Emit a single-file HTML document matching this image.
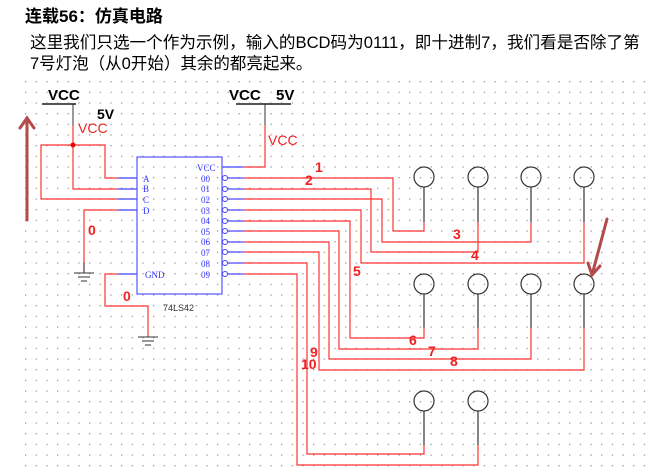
<!DOCTYPE html>
<html><head><meta charset="utf-8"><style>
body{margin:0;width:648px;height:474px;background:#fff;overflow:hidden;position:relative;font-family:"Liberation Sans","Noto Sans CJK SC",sans-serif}
.t{position:absolute;white-space:nowrap;color:#000;line-height:20px}
</style></head><body>
<div class="t" style="left:25px;top:7px;font-size:17px;font-weight:bold">连载56：仿真电路</div>
<div class="t" style="left:30px;top:33px;font-size:16.6px">这里我们只选一个作为示例，输入的BCD码为0111，即十进制7，我们看是否除了第</div>
<div class="t" style="left:30px;top:54px;font-size:16.5px">7号灯泡（从0开始）其余的都亮起来。</div>
<svg width="648" height="474" style="position:absolute;left:0;top:0" font-family="Liberation Sans, sans-serif">
<defs><pattern id="g" x="25" y="81" width="10.67" height="10.67" patternUnits="userSpaceOnUse"><rect x="0" y="0" width="1.2" height="1.2" fill="#888"/></pattern></defs>
<rect x="24" y="80" width="622" height="392" fill="url(#g)"/>
<text x="48" y="100" font-size="15" font-weight="bold">VCC</text>
<line x1="42" y1="104" x2="76" y2="104" stroke="#555" stroke-width="2"/>
<line x1="73" y1="104" x2="73" y2="125" stroke="#333"/>
<text x="97" y="119" font-size="14" font-weight="bold">5V</text>
<text x="78" y="133" font-size="14" fill="#e22">VCC</text>
<g stroke="#f33" fill="none" stroke-width="1.2">
<polyline points="73,125 73,189 118,189"/>
<polyline points="73,145 105,145 105,178 118,178"/>
<polyline points="73,145 41,145 41,199 118,199"/>
<polyline points="118,210 84,210 84,272"/>
<polyline points="118,274 105,274 105,306 148,306 148,337"/>
<polyline points="243,167 265,167 265,125"/>
</g>
<circle cx="73" cy="145" r="2.5" fill="#e00"/>
<g stroke="#333"><line x1="84" y1="262" x2="84" y2="273"/><line x1="74" y1="273" x2="94" y2="273"/><line x1="78" y1="277" x2="90" y2="277"/><line x1="81" y1="281" x2="87" y2="281"/>
<line x1="138" y1="337" x2="158" y2="337"/><line x1="142" y1="341" x2="154" y2="341"/><line x1="145" y1="345" x2="151" y2="345"/></g>
<text x="88" y="235" font-size="14" font-weight="bold" fill="#e22">0</text>
<text x="123" y="301" font-size="14" font-weight="bold" fill="#e22">0</text>
<text x="229" y="100" font-size="15" font-weight="bold">VCC</text>
<text x="276" y="100" font-size="15" font-weight="bold">5V</text>
<line x1="236" y1="104" x2="291" y2="104" stroke="#555" stroke-width="2"/>
<line x1="265" y1="104" x2="265" y2="125" stroke="#333"/>
<text x="268" y="145" font-size="14" fill="#e22">VCC</text>
<rect x="137" y="157" width="85" height="137" fill="none" stroke="#55f" stroke-width="1.2"/>
<g stroke="#44f" stroke-width="1.2">
<line x1="118" y1="178" x2="137" y2="178"/><line x1="118" y1="189" x2="137" y2="189"/><line x1="118" y1="199" x2="137" y2="199"/><line x1="118" y1="210" x2="137" y2="210"/><line x1="118" y1="274" x2="137" y2="274"/>
<line x1="222" y1="167" x2="243" y2="167"/>
</g>
<g stroke="#44f" fill="#fff" stroke-width="1">
<circle cx="225" cy="178" r="2.5"/><circle cx="225" cy="189" r="2.5"/><circle cx="225" cy="199" r="2.5"/><circle cx="225" cy="210" r="2.5"/><circle cx="225" cy="221" r="2.5"/><circle cx="225" cy="231" r="2.5"/><circle cx="225" cy="242" r="2.5"/><circle cx="225" cy="252" r="2.5"/><circle cx="225" cy="263" r="2.5"/><circle cx="225" cy="274" r="2.5"/>
</g>
<g stroke="#44f" stroke-width="1.2">
<line x1="228" y1="178" x2="243" y2="178"/><line x1="228" y1="189" x2="243" y2="189"/><line x1="228" y1="199" x2="243" y2="199"/><line x1="228" y1="210" x2="243" y2="210"/><line x1="228" y1="221" x2="243" y2="221"/><line x1="228" y1="231" x2="243" y2="231"/><line x1="228" y1="242" x2="243" y2="242"/><line x1="228" y1="252" x2="243" y2="252"/><line x1="228" y1="263" x2="243" y2="263"/><line x1="228" y1="274" x2="243" y2="274"/>
</g>
<g font-family="Liberation Serif, serif" font-size="9" fill="#33f">
<text x="143" y="182">A</text><text x="143" y="192">B</text><text x="143" y="203">C</text><text x="143" y="214">D</text><text x="145" y="278">GND</text>
<text x="197" y="171">VCC</text><text x="201" y="182">00</text><text x="201" y="192">01</text><text x="201" y="203">02</text><text x="201" y="214">03</text><text x="201" y="224">04</text><text x="201" y="235">05</text><text x="201" y="245">06</text><text x="201" y="256">07</text><text x="201" y="267">08</text><text x="201" y="278">09</text>
</g>
<text x="163" y="311" font-size="9" fill="#333">74LS42</text>
<g stroke="#f33" fill="none" stroke-width="1.2">
<polyline points="243,178 393,178 393,231 424,231 424,222"/>
<polyline points="243,189 371,189 371,252 478,252 478,222"/>
<polyline points="243,199 382,199 382,242 531,242 531,222"/>
<polyline points="243,210 361,210 361,263 584,263 584,222"/>
<polyline points="243,221 350,221 350,338 424,338 424,328"/>
<polyline points="243,231 339,231 339,349 478,349 478,328"/>
<polyline points="243,242 329,242 329,359 531,359 531,328"/>
<polyline points="243,252 319,252 319,370 584,370 584,328"/>
<polyline points="243,263 307,263 307,454 424,454 424,445"/>
<polyline points="243,274 297,274 297,465 478,465 478,445"/>
</g>
<g stroke="#333" fill="none" stroke-width="1.2">
<circle cx="424" cy="177" r="10"/><circle cx="478" cy="177" r="10"/><circle cx="531" cy="177" r="10"/><circle cx="584" cy="177" r="10"/>
<circle cx="424" cy="284" r="10"/><circle cx="478" cy="284" r="10"/><circle cx="531" cy="284" r="10"/><circle cx="584" cy="284" r="10"/>
<circle cx="424" cy="401" r="10"/><circle cx="478" cy="401" r="10"/>
<line x1="424" y1="187" x2="424" y2="222"/><line x1="478" y1="187" x2="478" y2="222"/><line x1="531" y1="187" x2="531" y2="222"/><line x1="584" y1="187" x2="584" y2="222"/>
<line x1="424" y1="294" x2="424" y2="328"/><line x1="478" y1="294" x2="478" y2="328"/><line x1="531" y1="294" x2="531" y2="328"/><line x1="584" y1="294" x2="584" y2="328"/>
<line x1="424" y1="411" x2="424" y2="445"/><line x1="478" y1="411" x2="478" y2="445"/>
</g>
<g font-size="14" font-weight="bold" fill="#e22">
<text x="315" y="172">1</text><text x="305" y="185">2</text><text x="453" y="239">3</text><text x="471" y="260">4</text><text x="353" y="276">5</text><text x="409" y="345">6</text><text x="428" y="356">7</text><text x="450" y="366">8</text><text x="310" y="357">9</text><text x="301" y="369">10</text>
</g>
<g stroke="#b44a4a" stroke-width="3" fill="none" stroke-linecap="round">
<line x1="27" y1="220" x2="27" y2="118"/><polyline points="20,128 27,118 34,128"/>
<line x1="607" y1="219" x2="592" y2="275"/><polyline points="588,263 592,275 600,266"/>
</g>
</svg>
</body></html>
